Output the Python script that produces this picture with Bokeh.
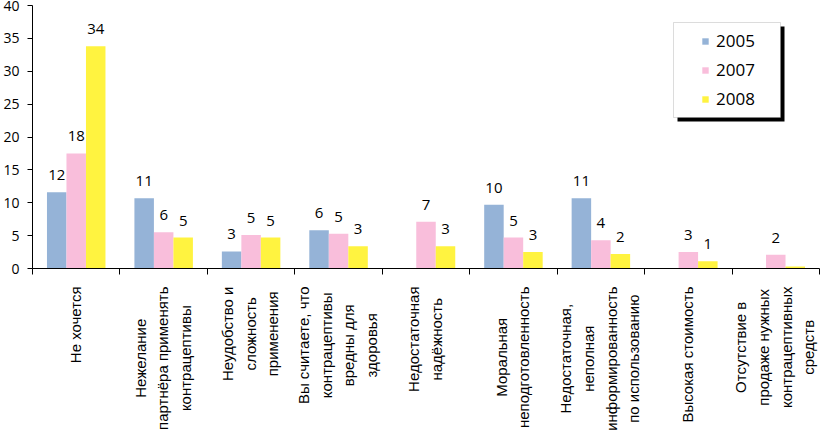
import math
from bokeh.plotting import figure
from bokeh.layouts import column
from bokeh.models import (ColumnDataSource, Range1d, FixedTicker,
                          Legend, LegendItem, BoxAnnotation)
from bokeh.core.properties import value
from bokeh.embed import file_html
from bokeh.resources import INLINE

categories = [
    "Не хочется",
    "Нежелание\nпартнёра применять\nконтрацептивы",
    "Неудобство и\nсложность\nприменения",
    "Вы считаете, что\nконтрацептивы\nвредны для\nздоровья",
    "Недостаточная\nнадёжность",
    "Моральная\nнеподготовленность",
    "Недостаточная,\nнеполная\nинформированность\nпо использованию",
    "Высокая стоимость",
    "Отсутствие в\nпродаже нужных\nконтрацептивных\nсредств",
]
years = ["2005", "2007", "2008"]
v2005 = [11.6, 10.7, 2.6, 5.8, None, 9.7, 10.7, None, None]
v2007 = [17.5, 5.5, 5.1, 5.3, 7.1, 4.7, 4.3, 2.5, 2.1]
v2008 = [33.8, 4.7, 4.7, 3.4, 3.4, 2.5, 2.2, 1.1, 0.3]
l2005 = ["12", "11", "3", "6", "", "10", "11", "", ""]
l2007 = ["18", "6", "5", "5", "7", "5", "4", "3", "2"]
l2008 = ["34", "5", "5", "3", "3", "3", "2", "1", ""]
y_ticks = [0, 5, 10, 15, 20, 25, 30, 35, 40]

colors = ["#95B3D7", "#F9BEDB", "#FFF340"]
series = [v2005, v2007, v2008]
labels = [l2005, l2007, l2008]
n = len(categories)
idx = list(range(n))

FW = 787
xr = Range1d(-0.5, n - 0.5)
p = figure(x_range=xr, y_range=Range1d(0, 40),
           frame_width=FW, frame_height=263, output_backend="svg", toolbar_location=None,
           min_border_left=31, min_border_right=3, min_border_top=5, min_border_bottom=15)
p.outline_line_color = None
p.xgrid.grid_line_color = None
p.ygrid.grid_line_color = None
p.background_fill_color = "white"

bw = 0.223
offsets = [-bw, 0.0, bw]
renderers = []
for vals, labs, col, off in zip(series, labels, colors, offsets):
    xs = [i + off for i, v in zip(idx, vals) if v is not None]
    tops = [v for v in vals if v is not None]
    src = ColumnDataSource(dict(x=xs, top=tops))
    r = p.vbar(x="x", top="top", width=bw, source=src, fill_color=col, line_color=None)
    renderers.append(r)
    lx = [i + off for i, l in zip(idx, labs) if l]
    lv = [v for v, l in zip(vals, labs) if l]
    ll = [l for l in labs if l]
    lsrc = ColumnDataSource(dict(x=lx, top=lv, txt=ll))
    p.text(x="x", y="top", text="txt", source=lsrc,
           text_align="center", text_baseline="alphabetic", y_offset=-17,
           text_font=value("Open Sans"), text_font_size="15px", text_color="#000000")

# y axis
ya = p.yaxis[0]
ya.ticker = FixedTicker(ticks=y_ticks)
ya.minor_tick_line_color = None
ya.major_tick_in = 0
ya.major_tick_out = 5
ya.major_label_standoff = 8
ya.axis_line_color = "#000000"
ya.major_tick_line_color = "#000000"
ya.major_label_text_font = "Open Sans"
ya.major_label_text_font_size = "14px"
ya.major_label_text_color = "#000000"

# x axis: line + ticks at category boundaries (minor ticks), no numeric labels
xa = p.xaxis[0]
xa.ticker = FixedTicker(ticks=[], minor_ticks=[i - 0.5 for i in range(n + 1)])
xa.axis_line_color = "#000000"
xa.minor_tick_line_color = "#000000"
xa.minor_tick_in = 0
xa.minor_tick_out = 6
xa.major_tick_line_color = None

# legend box with shadow
shadow = BoxAnnotation(left=645, right=752, top=242, bottom=147,
                       left_units="screen", right_units="screen", top_units="screen", bottom_units="screen",
                       fill_color="#000000", fill_alpha=1, line_color=None)
box = BoxAnnotation(left=641, right=748, top=246, bottom=151,
                    left_units="screen", right_units="screen", top_units="screen", bottom_units="screen",
                    fill_color="#FFFFFF", fill_alpha=1, line_color="#8C8C8C", line_width=1)
p.add_layout(shadow)
p.add_layout(box)

legend = Legend(items=[LegendItem(label=y, renderers=[r]) for y, r in zip(years, renderers)],
                location=(669, 158), padding=0, margin=0,
                background_fill_alpha=0, border_line_color=None,
                glyph_width=8, glyph_height=8, label_standoff=7, label_height=22, spacing=6,
                label_text_font="Open Sans", label_text_font_size="17px", label_text_color="#000000")
p.add_layout(legend, "center")

# category labels panel (same x scale, a few px wider so the last label is not clipped)
H = 161
extra_px = 3
q = figure(x_range=Range1d(-0.5, n - 0.5 + extra_px * n / FW), y_range=Range1d(0, H),
           frame_width=FW + extra_px, frame_height=H,
           output_backend="svg", toolbar_location=None, x_axis_type=None, y_axis_type=None,
           min_border_left=31, min_border_right=0, min_border_top=0, min_border_bottom=0)
q.outline_line_color = None
q.xgrid.grid_line_color = None
q.ygrid.grid_line_color = None
qsrc = ColumnDataSource(dict(x=idx, y=[H] * n, txt=categories))
q.text(x="x", y="y", text="txt", source=qsrc, angle=math.pi / 2, y_offset=3, x_offset=-1,
       anchor="center_right", text_align="center", text_baseline="middle",
       text_font=value("Liberation Sans"), text_font_size="15px", text_color="#000000",
       text_line_height=1.33)

layout = column(p, q, spacing=0)
open("out.html", "w").write(file_html(layout, INLINE))
